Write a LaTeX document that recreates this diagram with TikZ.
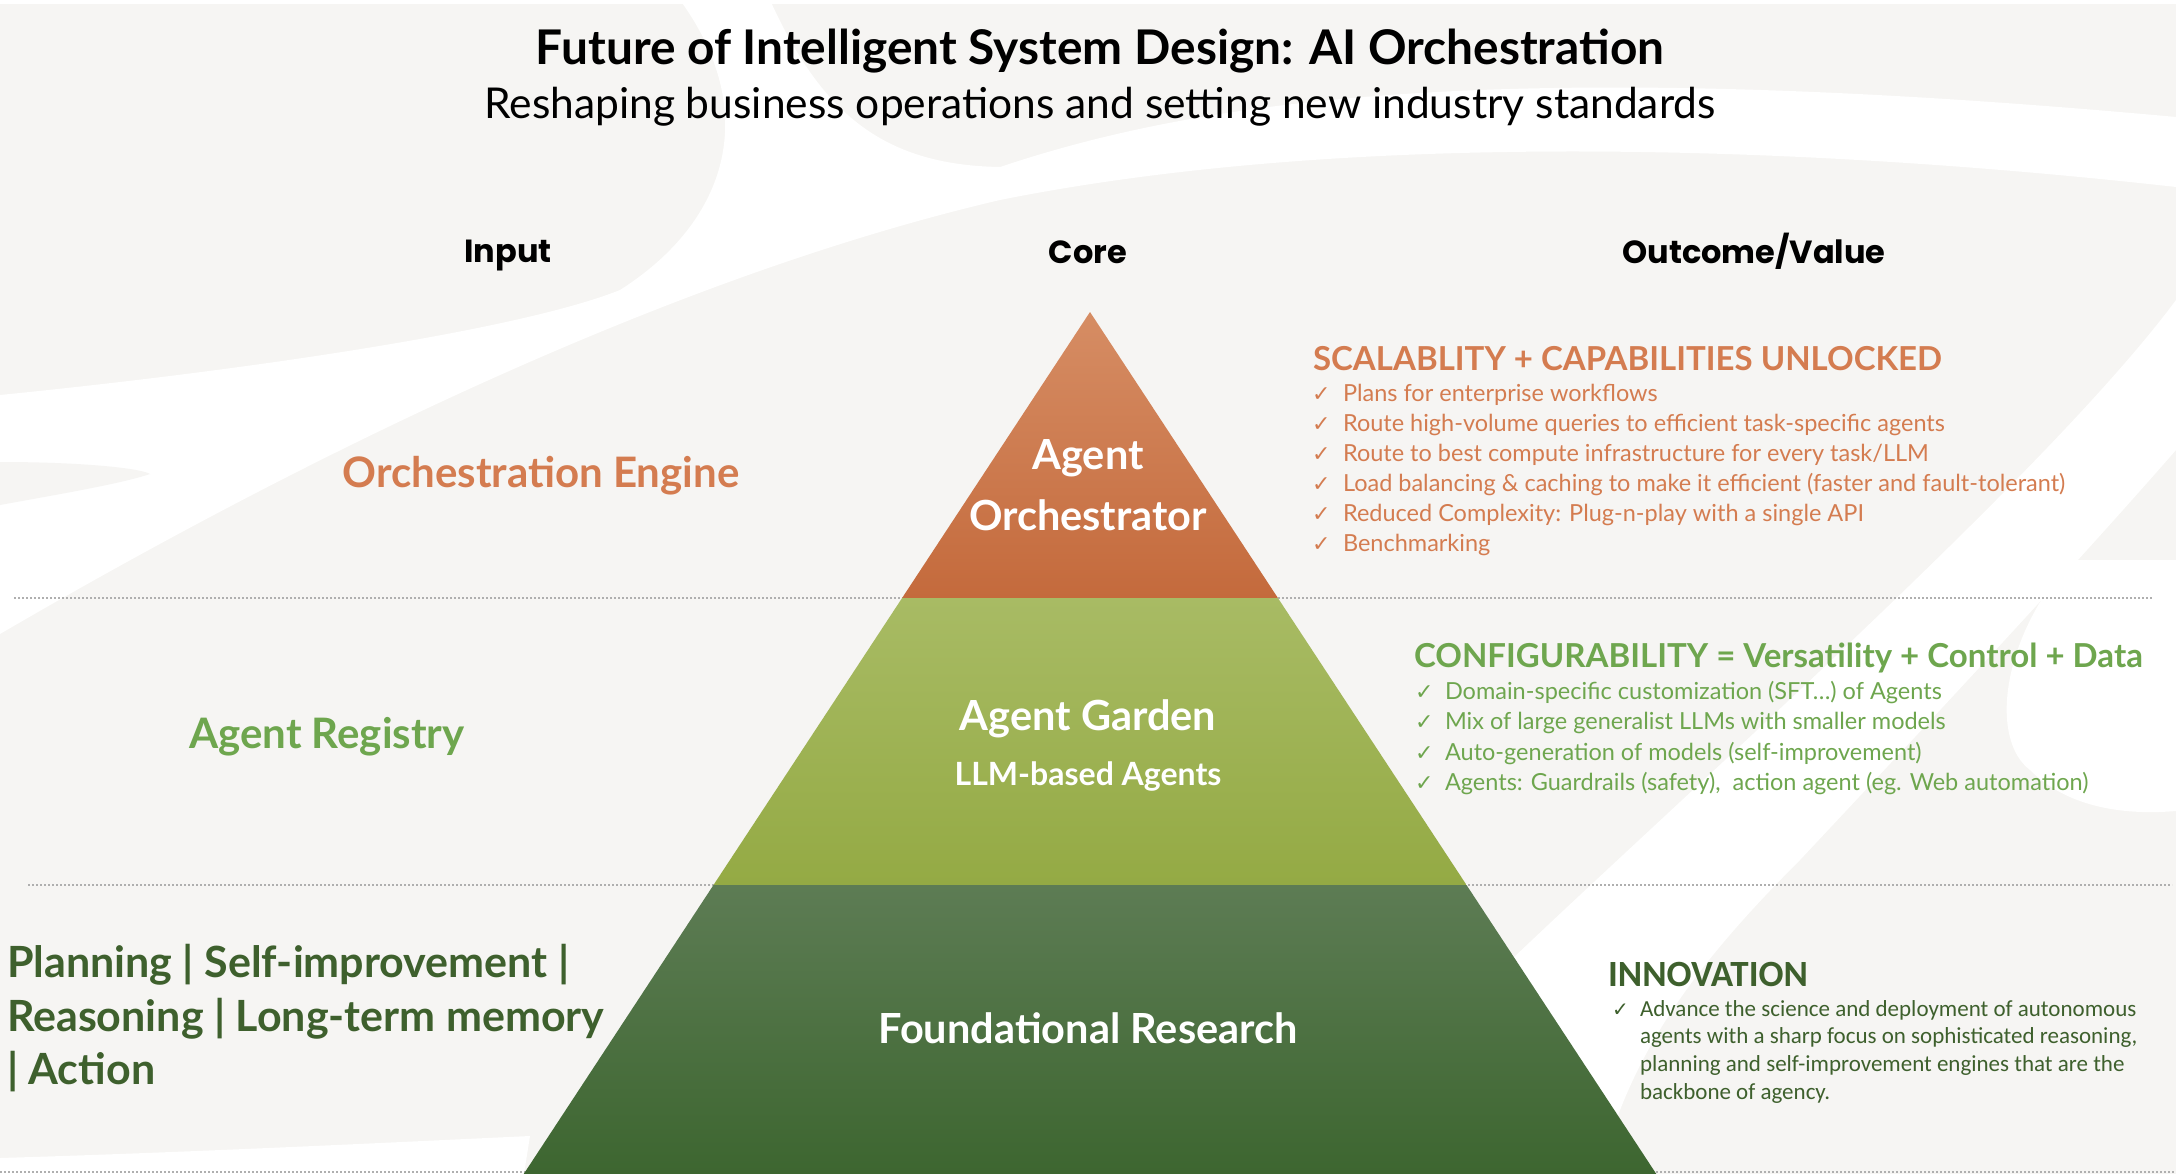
\documentclass[tikz,border=0pt]{standalone}
\usepackage{fontspec}
\setmainfont{Lato}
\newfontfamily\pop{Poppins}
\newfontfamily\carl{Carlito}
\newfontfamily\dejavu{DejaVu Sans}
\definecolor{bg}{RGB}{246,245,243}
\definecolor{dotgray}{RGB}{175,175,175}
\definecolor{orT}{RGB}{212,124,80}
\definecolor{lgT}{RGB}{110,166,78}
\definecolor{dgT}{RGB}{62,96,45}
\definecolor{or1}{RGB}{214,141,100}
\definecolor{or2}{RGB}{196,106,60}
\definecolor{lg1}{RGB}{168,187,100}
\definecolor{lg2}{RGB}{148,170,68}
\definecolor{dg1}{RGB}{93,124,84}
\definecolor{dg2}{RGB}{61,102,48}
\tikzset{
  txt/.style={inner sep=0pt, outer sep=0pt},
  ttlS/.style={txt, anchor=base, font=\fontsize{47.8}{57}\selectfont\bfseries},
  subS/.style={txt, anchor=base, font=\fontsize{42.5}{50}\selectfont},
  hdrS/.style={txt, anchor=base, font=\pop\fontsize{32}{38}\selectfont\bfseries},
  inS/.style={txt, anchor=base, font=\fontsize{42}{50}\selectfont\bfseries},
  inL/.style={txt, anchor=base west, font=\fontsize{43}{50}\selectfont\bfseries, text=dgT},
  pyrS/.style={txt, anchor=base, text=white, font=\fontsize{41.5}{50}\selectfont\bfseries},
  headS/.style={txt, anchor=base west, font=\fontsize{33}{40}\selectfont\bfseries},
  bulS/.style={txt, anchor=base west, font=\fontsize{23.5}{28}\selectfont},
  chkS/.style={txt, anchor=base west, font=\dejavu\fontsize{22}{24}\selectfont},
  innS/.style={txt, anchor=base west, text=dgT, font=\carl\fontsize{23}{28}\selectfont},
  dotS/.style={draw=dotgray, line width=2pt, dash pattern=on 2pt off 2pt},
}
\begin{document}
\begin{tikzpicture}[x=1pt,y=-1pt]
\useasboundingbox (0,0) rectangle (2176,1174);
\fill[bg] (0,0) rectangle (2176,1174);
% background swooshes
\fill[white] (0,0) rectangle (2176,4);
\fill[white] (0,395) .. controls (250,370) and (520,330) .. (620,290)
  .. controls (730,220) and (760,110) .. (680,0) -- (770,0)
  .. controls (820,110) and (880,165) .. (1000,167)
  .. controls (1200,100) and (1500,55) .. (2176,117) -- (2176,187)
  .. controls (1800,145) and (1350,130) .. (1000,200)
  .. controls (700,270) and (350,430) .. (0,634) -- cycle;
\fill[bg] (0,462) .. controls (80,462) and (140,468) .. (150,474)
  .. controls (120,484) and (60,494) .. (0,505) -- cycle;
\fill[white] (2176,300) .. controls (2050,470) and (1700,780) .. (1511,960)
  .. controls (1450,1030) and (1420,1100) .. (1400,1174) -- (1600,1174)
  .. controls (1630,1050) and (1700,960) .. (1800,860)
  .. controls (1950,700) and (2080,560) .. (2176,450) -- cycle;
\fill[white] (2176,560) -- (2071,560) .. controls (2000,640) and (1990,740) .. (2030,770)
  .. controls (2070,810) and (2130,815) .. (2176,811) -- cycle;
\fill[white] (0,1158) .. controls (200,1152) and (400,1142) .. (530,1136) -- (524,1174) -- (0,1174) -- cycle;
% dotted separators
\coordinate (d1a) at (14,598);  \coordinate (d1b) at (2152,598);
\coordinate (d2a) at (28,885);  \coordinate (d2b) at (2172,885);
\coordinate (d3a) at (0,1172);  \coordinate (d3b) at (2176,1172);
\draw[dotS] (d1a) -- (d1b);
\draw[dotS] (d2a) -- (d2b);
\draw[dotS] (d3a) -- (d3b);
% pyramid
\coordinate (apex) at (1090,312);
\coordinate (l1) at (902.1,598);  \coordinate (r1) at (1277.9,598);
\coordinate (l2) at (713.5,885);  \coordinate (r2) at (1466.5,885);
\coordinate (l3) at (523.7,1174); \coordinate (r3) at (1656.3,1174);
\shade[top color=or1, bottom color=or2] (apex) -- (r1) -- (l1) -- cycle;
\shade[top color=lg1, bottom color=lg2] (l1) -- (r1) -- (r2) -- (l2) -- cycle;
\shade[top color=dg1, bottom color=dg2] (l2) -- (r2) -- (r3) -- (l3) -- cycle;
\node[pyrS] (p1a) at (1088,469) {Agent};
\node[pyrS] (p1b) at (1088,530) {Orchestrator};
\node[pyrS] (p2a) at (1088,730) {Agent Garden};
\node[pyrS, font=\fontsize{32}{38}\selectfont\bfseries] (p2b) at (1088,785) {LLM-based Agents};
\node[pyrS] (p3) at (1088,1043) {Foundational Research};
% titles
\node[ttlS] (title) at (1100,65) {Future of Intelligent System Design: AI Orchestration};
\node[subS] (sub) at (1100,119) {Reshaping business operations and setting new industry standards};
\node[hdrS] (hin) at (508,263) {Input};
\node[hdrS] (hcore) at (1088,264) {Core};
\node[hdrS] (hout) at (1754,264) {Outcome/Value};
% input column
\node[inS, text=orT] (ie) at (541,487) {Orchestration Engine};
\node[inS, text=lgT] (ir) at (327,748) {Agent Registry};
\node[inL] (ip1) at (7,977) {Planning | Self-improvement |};
\node[inL] (ip2) at (7,1031) {Reasoning | Long-term memory};
\node[inL] (ip3) at (7,1084) {| Action};
% outcome: orchestrator
\node[headS, text=orT] (oh) at (1313,370) {SCALABLITY + CAPABILITIES UNLOCKED};
\foreach \t [count=\i from 0] in {Plans for enterprise workflows,
  Route high-volume queries to efficient task-specific agents,
  Route to best compute infrastructure for every task/LLM,
  {Load balancing \& caching to make it efficient (faster and fault-tolerant)},
  {Reduced Complexity: Plug-n-play with a single API},
  Benchmarking} {
  \node[chkS, text=orT] (oc\i) at (1312,401+30*\i) {✓};
  \node[bulS, text=orT] (ob\i) at (1343,401+30*\i) {\t};
}
% outcome: garden
\node[headS, text=lgT] (gh) at (1414,667) {CONFIGURABILITY = Versatility + Control + Data};
\foreach \t [count=\i from 0] in {{Domain-specific customization (SFT…) of Agents},
  Mix of large generalist LLMs with smaller models,
  {Auto-generation of models (self-improvement)},
  {Agents: Guardrails (safety),\ \ action agent (eg. Web automation)}} {
  \node[chkS, text=lgT] (gc\i) at (1415,699+30.6*\i) {✓};
  \node[bulS, text=lgT] (gb\i) at (1445,699+30.6*\i) {\t};
}
% outcome: research
\node[txt, anchor=base west, text=dgT, font=\carl\fontsize{37}{44}\selectfont\bfseries] (nh) at (1608,986) {INNOVATION};
\node[chkS, text=dgT, font=\dejavu\fontsize{20}{22}\selectfont] (nc) at (1612,1016) {✓};
\node[innS] (n1) at (1640,1016) {Advance the science and deployment of autonomous};
\node[innS] (n2) at (1640,1043.7) {agents with a sharp focus on sophisticated reasoning,};
\node[innS] (n3) at (1640,1071.4) {planning and self-improvement engines that are the};
\node[innS] (n4) at (1640,1099.1) {backbone of agency.};
\end{tikzpicture}
\end{document}
